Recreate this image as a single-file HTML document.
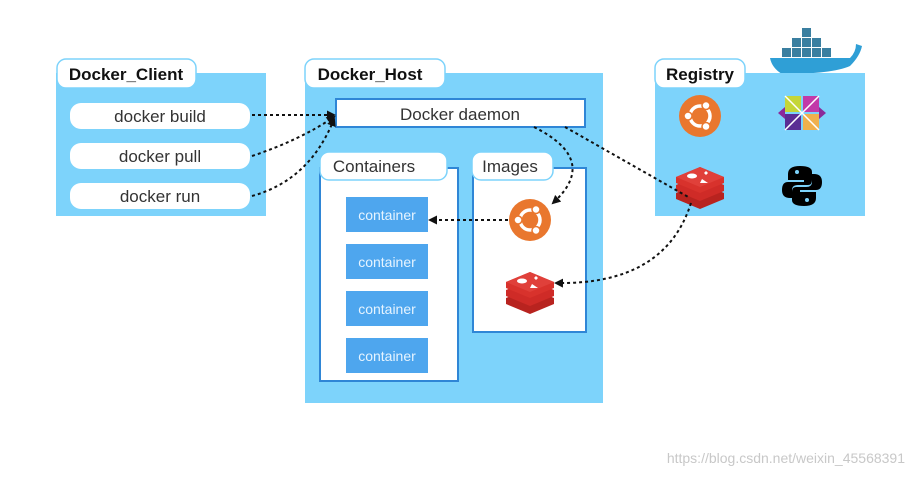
<!DOCTYPE html>
<html><head><style>
body{margin:0;background:#fff;width:912px;height:477px;overflow:hidden;font-family:"Liberation Sans",sans-serif}
</style></head><body>
<svg width="912" height="477" xmlns="http://www.w3.org/2000/svg" font-family="Liberation Sans, sans-serif">
<defs>
<marker id="a" markerUnits="userSpaceOnUse" markerWidth="9" markerHeight="9" refX="7" refY="4.5" orient="auto"><path d="M0,0 L9,4.5 L0,9 z" fill="#111"/></marker>
<g id="ub"><circle r="21" fill="#e9772e"/><circle r="10" fill="none" stroke="#fff" stroke-width="3.5"/><circle cx="-12" cy="0" r="4" fill="#fff" stroke="#e9772e" stroke-width="1.5"/><circle cx="6" cy="-10.5" r="4" fill="#fff" stroke="#e9772e" stroke-width="1.5"/><circle cx="6" cy="10.5" r="4" fill="#fff" stroke="#e9772e" stroke-width="1.5"/></g>
<g id="rd"><path d="M-24,8 L0,-2 L24,8 L24,14 L0,24 L-24,14z" fill="#b8231f"/><path d="M-24,0 L0,-10 L24,0 L24,6 L0,16 L-24,6z" fill="#cf2b27"/><path d="M-24,-8 L0,-18 L24,-8 L24,-2 L0,8 L-24,-2z" fill="#d8322c"/><path d="M-24,-8 L0,-18 L24,-8 L0,2z" fill="#e0403a"/><ellipse cx="-8" cy="-9" rx="5" ry="2.5" fill="#fff"/><path d="M2,-6 L8,-2 L0,-2z" fill="#fff"/><path d="M6,-14 l2,2 l-2,2 l-2,-2z" fill="#fff"/></g>
</defs>
<rect x="56" y="73" width="210" height="143" fill="#7dd3fb"/>
<rect x="57" y="59" width="139" height="29" rx="9" fill="#fff" stroke="#7dd3fb" stroke-width="1.5"/>
<text x="126" y="80" text-anchor="middle" font-size="17" font-weight="bold" fill="#111">Docker_Client</text>
<g font-size="17" fill="#333" text-anchor="middle">
<rect x="70" y="103" width="180" height="26" rx="11" fill="#fff"/><text x="160" y="122">docker build</text>
<rect x="70" y="143" width="180" height="26" rx="11" fill="#fff"/><text x="160" y="162">docker pull</text>
<rect x="70" y="183" width="180" height="26" rx="11" fill="#fff"/><text x="160" y="202">docker run</text>
</g>
<rect x="305" y="73" width="298" height="330" fill="#7dd3fb"/>
<rect x="305" y="59" width="140" height="29" rx="9" fill="#fff" stroke="#7dd3fb" stroke-width="1.5"/>
<text x="370" y="80" text-anchor="middle" font-size="17" font-weight="bold" fill="#111">Docker_Host</text>
<rect x="336" y="99" width="249" height="28" fill="#fff" stroke="#2f86d6" stroke-width="2"/>
<text x="460" y="120" text-anchor="middle" font-size="17" fill="#333">Docker daemon</text>
<rect x="320" y="168" width="138" height="213" fill="#fff" stroke="#2f86d6" stroke-width="2"/>
<rect x="320" y="152" width="127" height="28" rx="9" fill="#fff" stroke="#7dd3fb" stroke-width="1.5"/>
<text x="374" y="172" text-anchor="middle" font-size="17" fill="#333">Containers</text>
<g fill="#4ea6ee"><rect x="346" y="197" width="82" height="35"/><rect x="346" y="244" width="82" height="35"/><rect x="346" y="291" width="82" height="35"/><rect x="346" y="338" width="82" height="35"/></g>
<g font-size="14" fill="#e6f4ff" text-anchor="middle"><text x="387" y="220">container</text><text x="387" y="267">container</text><text x="387" y="314">container</text><text x="387" y="361">container</text></g>
<rect x="473" y="168" width="113" height="164" fill="#fff" stroke="#2f86d6" stroke-width="2"/>
<rect x="472" y="152" width="81" height="28" rx="9" fill="#fff" stroke="#7dd3fb" stroke-width="1.5"/>
<text x="510" y="172" text-anchor="middle" font-size="17" fill="#333">Images</text>
<use href="#ub" x="530" y="220"/>
<use href="#rd" x="530" y="290"/>
<g transform="translate(812,58)">
<path d="M-42,0 L38,0 Q44,-6 44,-14 L50,-12 Q48,-2 38,8 Q20,16 -30,16 Q-40,10 -42,0z" fill="#2f9fd6"/>
<g fill="#3a7fa0"><rect x="-30" y="-10" width="9" height="9"/><rect x="-20" y="-10" width="9" height="9"/><rect x="-10" y="-10" width="9" height="9"/><rect x="0" y="-10" width="9" height="9"/><rect x="10" y="-10" width="9" height="9"/><rect x="-20" y="-20" width="9" height="9"/><rect x="-10" y="-20" width="9" height="9"/><rect x="0" y="-20" width="9" height="9"/><rect x="-10" y="-30" width="9" height="9"/></g>
</g>
<rect x="655" y="73" width="210" height="143" fill="#7dd3fb"/>
<rect x="655" y="59" width="90" height="29" rx="9" fill="#fff" stroke="#7dd3fb" stroke-width="1.5"/>
<text x="700" y="80" text-anchor="middle" font-size="17" font-weight="bold" fill="#111">Registry</text>
<use href="#ub" x="700" y="116"/>
<g transform="translate(802,113)"><rect x="-17" y="-17" width="16" height="16" fill="#c5d638"/><rect x="1" y="-17" width="16" height="16" fill="#c23aa8"/><rect x="-17" y="1" width="16" height="16" fill="#5b2d94"/><rect x="1" y="1" width="16" height="16" fill="#f0b14d"/><path d="M-24,0 L-17,-6 L-17,6z M24,0 L17,-6 L17,6z" fill="#8a2a9a"/><path d="M-17,-17 L17,17 M17,-17 L-17,17" stroke="#fff" stroke-width="1.5"/></g>
<use href="#rd" x="700" y="185"/>
<g transform="translate(802,186)" fill="#000"><path d="M-2,-20 Q-14,-20 -14,-12 L-14,-6 L2,-6 L2,-4 L-14,-4 Q-20,-4 -20,4 Q-20,12 -12,12 L-10,12 L-10,4 Q-10,-1 -4,-1 L6,-1 Q10,-1 10,-6 L10,-14 Q10,-20 -2,-20z"/><path d="M2,20 Q14,20 14,12 L14,6 L-2,6 L-2,4 L14,4 Q20,4 20,-4 Q20,-12 12,-12 L10,-12 L10,-4 Q10,1 4,1 L-6,1 Q-10,1 -10,6 L-10,14 Q-10,20 2,20z"/><circle cx="-5" cy="-14" r="2" fill="#7dd3fb"/><circle cx="5" cy="14" r="2" fill="#7dd3fb"/></g>
<g fill="none" stroke="#111" stroke-width="2" stroke-dasharray="3,3">
<path d="M252,115 L334,115" marker-end="url(#a)"/>
<path d="M252,156 Q300,140 334,117" marker-end="url(#a)"/>
<path d="M252,196 Q310,180 334,119" marker-end="url(#a)"/>
<path d="M534,127 Q600,160 553,203" marker-end="url(#a)"/>
<path d="M508,220 L430,220" marker-end="url(#a)"/>
<path d="M565,127 L690,198"/>
<path d="M691,203 Q665,285 556,283" marker-end="url(#a)"/>
</g>
<text x="905" y="463" text-anchor="end" font-size="14" fill="#c8c8c8">https://blog.csdn.net/weixin_45568391</text>
</svg>
</body></html>
